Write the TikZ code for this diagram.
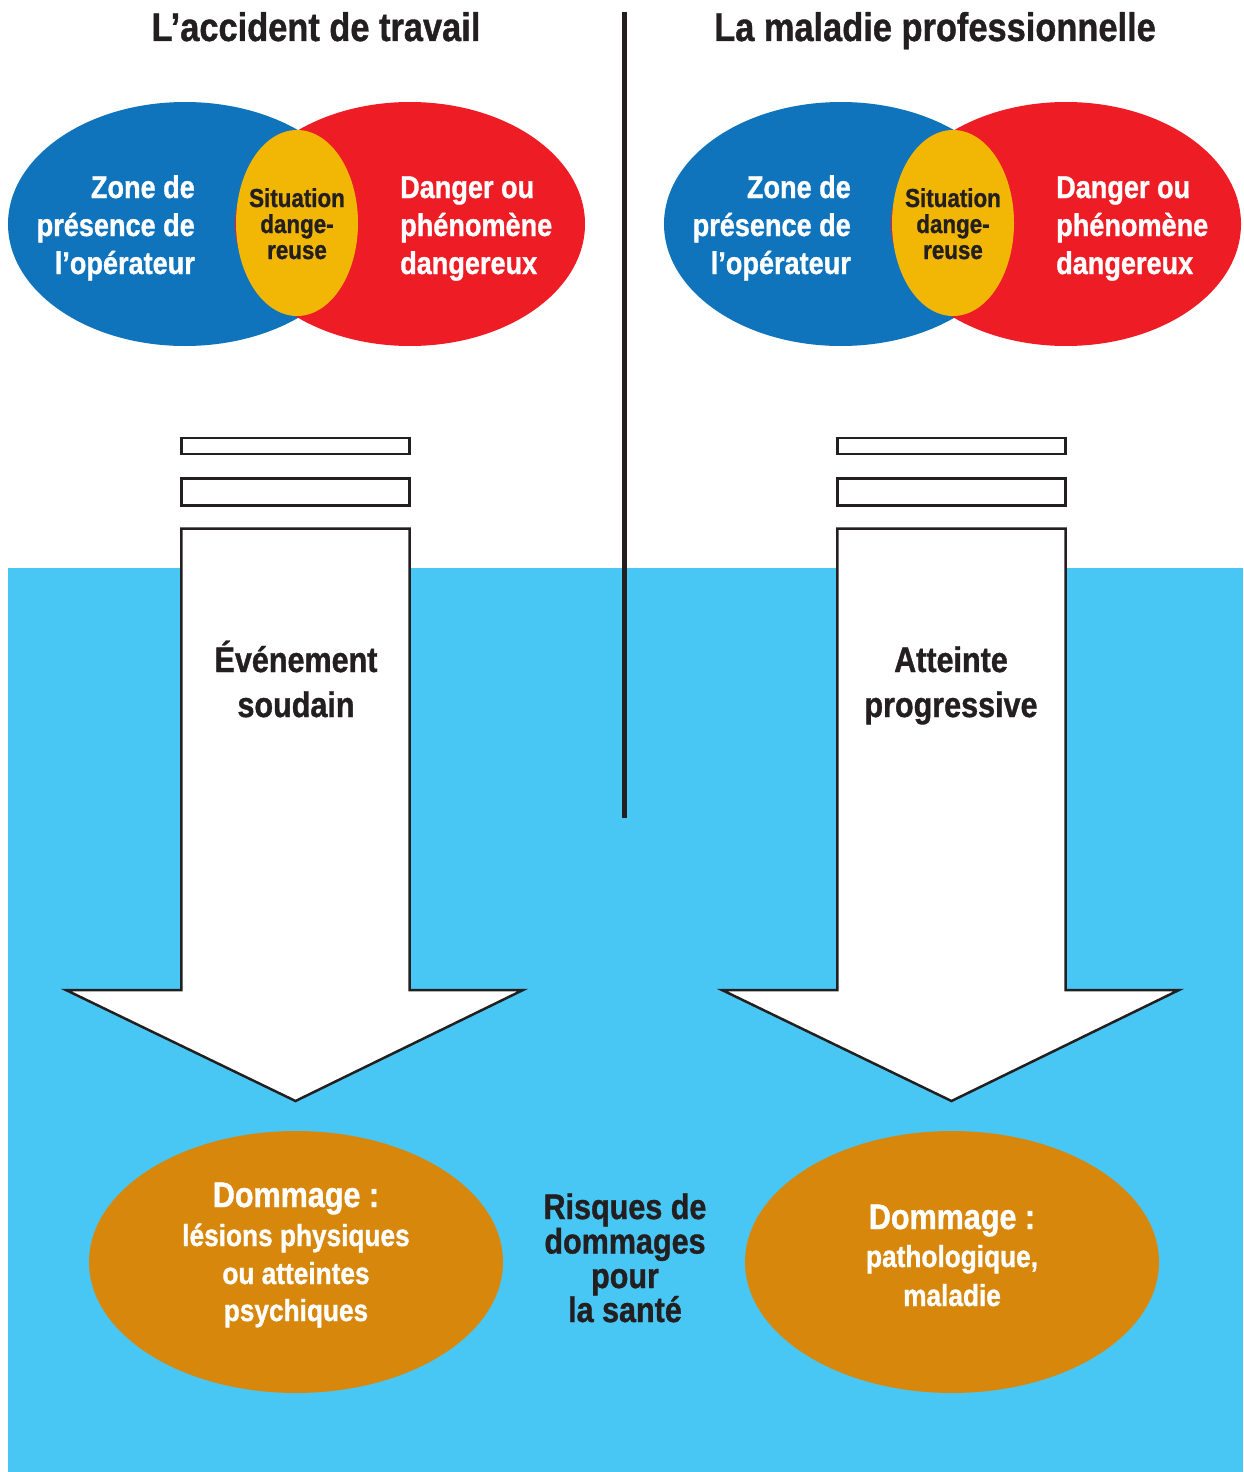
\documentclass[tikz,border=0pt]{standalone}
\usepackage{fontspec}
\setmainfont{Liberation Sans}[FakeStretch=0.86, FakeBold=1]
\usetikzlibrary{shapes.geometric}
\definecolor{cblue}{HTML}{1074BC}
\definecolor{cred}{HTML}{EE1D25}
\definecolor{cyel}{HTML}{F2B705}
\definecolor{csky}{HTML}{49C7F4}
\definecolor{corange}{HTML}{D7870B}
\definecolor{cdark}{HTML}{231F20}
\tikzset{
  ell/.style={ellipse, draw=none, inner sep=0pt},
  tA/.style={inner sep=0pt, anchor=base, font=\fontsize{40}{46}\selectfont\bfseries, text=cdark},
  tV/.style={inner sep=0pt, font=\fontsize{31.5}{37}\selectfont\bfseries, text=white},
  tY/.style={inner sep=0pt, anchor=base, font=\fontsize{26}{30}\selectfont\bfseries, text=cdark},
  tB/.style={inner sep=0pt, anchor=base, font=\fontsize{35.5}{42}\selectfont\bfseries, text=cdark},
  tD/.style={inner sep=0pt, anchor=base, font=\fontsize{35.5}{42}\selectfont\bfseries, text=white},
  tL/.style={inner sep=0pt, anchor=base, font=\fontsize{30.5}{36}\selectfont\bfseries, text=white},
  arrowshape/.style={fill=white, draw=cdark, line width=2.5pt, line join=miter},
}
\begin{document}
\begin{tikzpicture}[x=1pt, y=-1pt]
\useasboundingbox (0,0) rectangle (1243,1472);
% background
\fill[csky] (8,568) rectangle (1243,1472);
% divider
\coordinate (divtop) at (624.5,12);
\coordinate (divbot) at (624.5,818);
\draw[cdark, line width=5.5pt] (divtop) -- (divbot);

% titles
\node[tA] (titA) at (316,41) {L’accident de travail};
\node[tA] (titB) at (935,41) {La maladie professionnelle};

% Venn A
\node[ell, fill=cblue, minimum width=354pt, minimum height=244pt] (bleuA) at (185,224) {};
\node[ell, fill=cred, minimum width=350pt, minimum height=244pt] (rougeA) at (410,224) {};
\node[ell, fill=cyel, minimum width=122pt, minimum height=186pt] (jauneA) at (297,223) {};
\node[tV, anchor=base east] (zA1) at (195,198) {Zone de};
\node[tV, anchor=base east] (zA2) at (195,236) {présence de};
\node[tV, anchor=base east] (zA3) at (195,274) {l’opérateur};
\node[tV, anchor=base west] (dA1) at (400,198) {Danger ou};
\node[tV, anchor=base west] (dA2) at (400,236) {phénomène};
\node[tV, anchor=base west] (dA3) at (400,274) {dangereux};
\node[tY] (sA1) at (297,207) {Situation};
\node[tY] (sA2) at (297,233) {dange-};
\node[tY] (sA3) at (297,259) {reuse};

% Venn B
\node[ell, fill=cblue, minimum width=354pt, minimum height=244pt] (bleuB) at (841,224) {};
\node[ell, fill=cred, minimum width=350pt, minimum height=244pt] (rougeB) at (1066,224) {};
\node[ell, fill=cyel, minimum width=122pt, minimum height=186pt] (jauneB) at (953,223) {};
\node[tV, anchor=base east] (zB1) at (851,198) {Zone de};
\node[tV, anchor=base east] (zB2) at (851,236) {présence de};
\node[tV, anchor=base east] (zB3) at (851,274) {l’opérateur};
\node[tV, anchor=base west] (dB1) at (1056,198) {Danger ou};
\node[tV, anchor=base west] (dB2) at (1056,236) {phénomène};
\node[tV, anchor=base west] (dB3) at (1056,274) {dangereux};
\node[tY] (sB1) at (953,207) {Situation};
\node[tY] (sB2) at (953,233) {dange-};
\node[tY] (sB3) at (953,259) {reuse};

% Arrow A
\draw[arrowshape] (181.25,438) rectangle (409.5,454);
\draw[arrowshape] (181.25,478.5) rectangle (409.5,505.5);
\draw[arrowshape] (181.25,528.5) -- (409.5,528.5) -- (409.5,990) -- (523,990)
  -- (295.5,1101) -- (66,990) -- (181.25,990) -- cycle;
\node[tB] (evA1) at (296,672) {Événement};
\node[tB] (evA2) at (296,717) {soudain};

% Arrow B
\draw[arrowshape] (837.25,438) rectangle (1065.5,454);
\draw[arrowshape] (837.25,478.5) rectangle (1065.5,505.5);
\draw[arrowshape] (837.25,528.5) -- (1065.5,528.5) -- (1065.5,990) -- (1179,990)
  -- (951.5,1101) -- (722,990) -- (837.25,990) -- cycle;
\node[tB] (evB1) at (951,672) {Atteinte};
\node[tB] (evB2) at (951,717) {progressive};

% Dommages
\node[ell, fill=corange, minimum width=414pt, minimum height=262pt] (domA) at (296,1262) {};
\node[tD] (dmA1) at (296,1207) {Dommage :};
\node[tL] (dmA2) at (296,1246) {lésions physiques};
\node[tL] (dmA3) at (296,1284) {ou atteintes};
\node[tL] (dmA4) at (296,1321) {psychiques};

\node[ell, fill=corange, minimum width=414pt, minimum height=262pt] (domB) at (952,1262) {};
\node[tD] (dmB1) at (952,1229) {Dommage :};
\node[tL] (dmB2) at (952,1267) {pathologique,};
\node[tL] (dmB3) at (952,1306) {maladie};

% centre
\node[tB] (r1) at (625,1219) {Risques de};
\node[tB] (r2) at (625,1253.5) {dommages};
\node[tB] (r3) at (625,1288) {pour};
\node[tB] (r4) at (625,1322) {la santé};
\end{tikzpicture}
\end{document}
